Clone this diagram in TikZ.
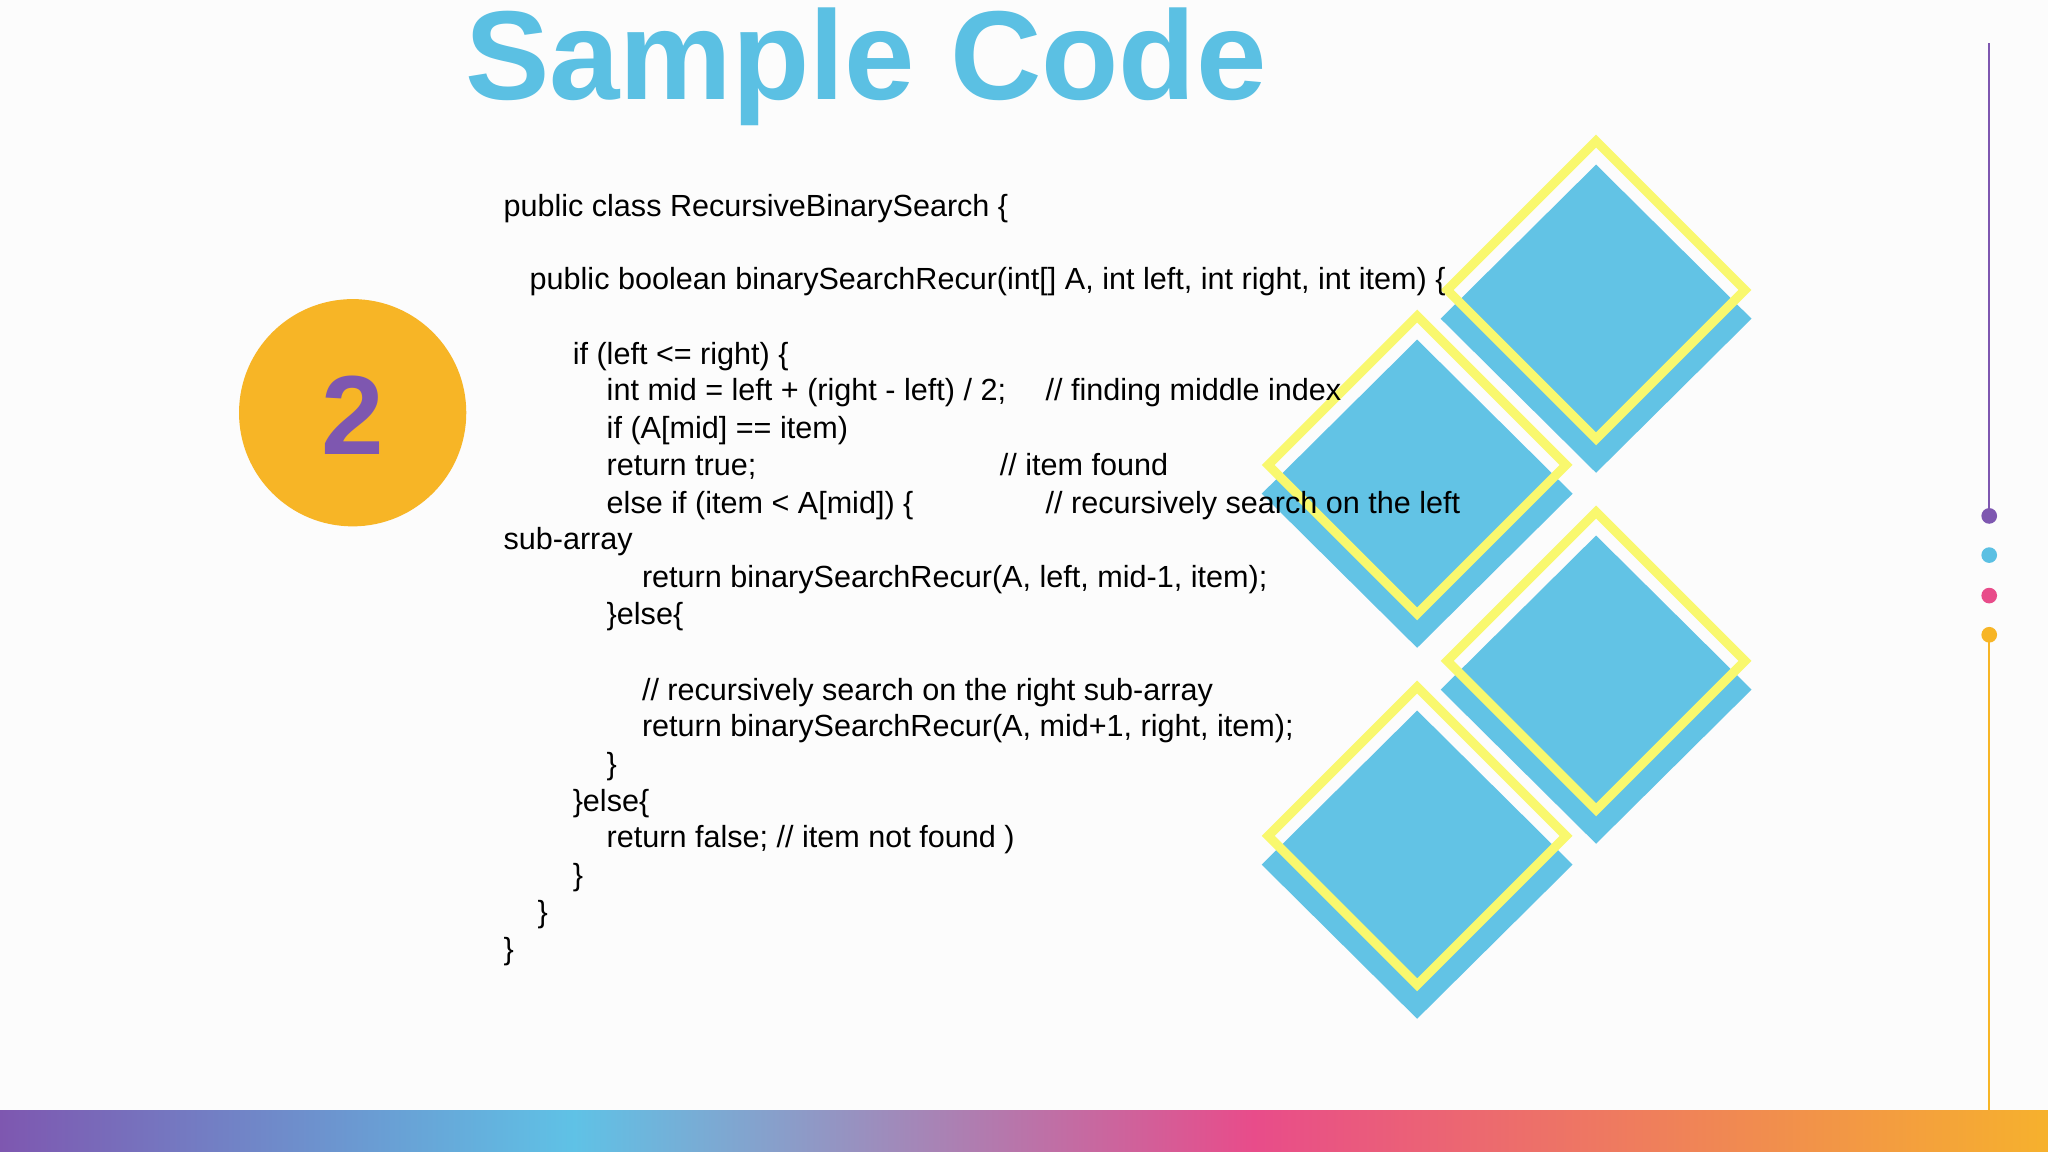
\documentclass[tikz,border=0pt]{standalone}
\usepackage{fontspec}
\setmainfont{Liberation Sans}
\definecolor{tblue}{HTML}{5BC0E3}
\definecolor{dblue}{HTML}{62C3E5}
\definecolor{yel}{HTML}{F9F86E}
\definecolor{orng}{HTML}{F7B526}
\definecolor{purp}{HTML}{7E57B0}
\definecolor{pink}{HTML}{E84C8A}
\definecolor{gorng}{HTML}{F6B12D}
\definecolor{gblue}{HTML}{5FC2E6}
\begin{document}
\begin{tikzpicture}[x=0.013061cm,y=-0.013061cm,
  code/.style={anchor=base west,inner sep=0pt,font=\fontsize{8.7}{10}\selectfont},
  bluedia/.style={fill=dblue},
  yeldia/.style={draw=yel,line width=2.6pt}]
\fill[white!98!gray] (0,0) rectangle (1568,882);
\useasboundingbox (0,0) rectangle (1568,882);
% title
\node[font=\fontsize{36}{40}\selectfont\bfseries,text=tblue,anchor=base] (title) at (663,76) {Sample Code};
% circle
\fill[orng] (270,316) circle (87);
\node[font=\fontsize{32}{36}\selectfont\bfseries,text=purp] (two) at (270,318) {2};
% diamonds
\foreach \cx/\cy in {1222/222,1085/356,1222/506,1085/640}{
  \fill[dblue] (\cx,\cy+22-118) -- (\cx+119,\cy+22) -- (\cx,\cy+22+118) -- (\cx-119,\cy+22) -- cycle;
  \draw[yeldia] (\cx,\cy-114) -- (\cx+114,\cy) -- (\cx,\cy+114) -- (\cx-114,\cy) -- cycle;
}
% code
\node[code] (l1) at (385,166) {public class RecursiveBinarySearch \{};
\node[code] (l2) at (405,222) {public boolean binarySearchRecur(int[] A, int left, int right, int item) \{};
\node[code] (l3) at (438,279) {if (left <= right) \{};
\node[code] (l4) at (464,307) {int mid = left + (right - left) / 2;};
\node[code] (c4) at (800,307) {// finding middle index};
\node[code] (l5) at (464,336) {if (A[mid] == item)};
\node[code] (l6) at (464,364) {return true;};
\node[code] (c6) at (765,364) {// item found};
\node[code] (l7) at (464,393) {else if (item < A[mid]) \{};
\node[code] (c7) at (800,393) {// recursively search on the left};
\node[code] (l8) at (385,421) {sub-array};
\node[code] (l9) at (491,450) {return binarySearchRecur(A, left, mid-1, item);};
\node[code] (l10) at (464,478) {\}else\{};
\node[code] (l11) at (491,536) {// recursively search on the right sub-array};
\node[code] (l12) at (491,564) {return binarySearchRecur(A, mid+1, right, item);};
\node[code] (l13) at (464,593) {\}};
\node[code] (l14) at (438,621) {\}else\{};
\node[code] (l15) at (464,649) {return false; // item not found )};
\node[code] (l16) at (438,678) {\}};
\node[code] (l17) at (411,706) {\}};
\node[code] (l18) at (385,735) {\}};
% right line and dots
\draw[purp,line width=0.6pt] (1523,33) -- (1523,395);
\draw[orng,line width=0.6pt] (1523,486) -- (1523,850);
\fill[purp] (1523,395) circle (6);
\fill[tblue] (1523,425) circle (6);
\fill[pink] (1523,456) circle (6);
\fill[orng] (1523,486) circle (6);
% bottom bar
\shade[left color=purp,right color=gblue] (0,850) rectangle (440,882);
\shade[left color=gblue,right color=pink] (439,850) rectangle (960,882);
\shade[left color=pink,right color=gorng] (959,850) rectangle (1568,882);
\end{tikzpicture}
\end{document}
